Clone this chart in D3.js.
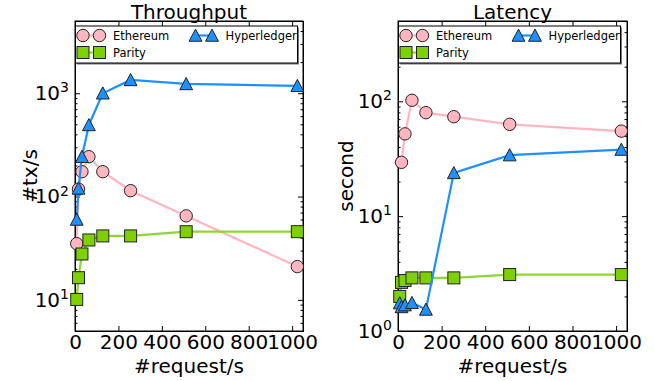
<!DOCTYPE html>
<html>
<head>
<meta charset="utf-8">
<script src="https://cdn.jsdelivr.net/npm/d3@7"></script>
<style>
  body { margin: 0; background: #fff; }
  svg { font-family: "DejaVu Sans", sans-serif; }
</style>
</head>
<body>
<div id="chart"></div>
<script>
// request rates (x) shared by every series
const requestRates = [8, 16, 32, 64, 128, 256, 512, 1024];

// Throughput (#tx/s)
const ethThroughput = [35, 118, 174, 243, 174, 114, 65, 21];
const parityThroughput = [10.1, 16.4, 27.8, 38, 41.6, 41.6, 45.7, 45.7];
const hyperThroughput = [60, 120, 243, 493, 1000, 1346, 1230, 1180];

// Latency (second) - Ethereum has no point at 8 req/s
const ethLatencyRates = [16, 32, 64, 128, 256, 512, 1024];
const ethLatency = [29.4, 52, 102, 79.6, 73.4, 63, 55];
const parityLatency = [2.0, 2.65, 2.75, 2.9, 2.9, 2.9, 3.1, 3.1];
const hyperLatency = [1.75, 1.62, 1.68, 1.76, 1.54, 23.8, 34, 38];

const xTicks = [0, 200, 400, 600, 800, 1000];
const legendNames = ["Ethereum", "Parity", "Hyperledger"];

const W = 654, H = 381;
const svg = d3.select("#chart").append("svg")
  .attr("width", W).attr("height", H);

const style = {
  Ethereum: {fill: "#ffb6c1", line: "#ffb6c1", shape: "circle"},
  Parity: {fill: "#7fd000", line: "#8fd630", shape: "square"},
  Hyperledger: {fill: "#1e90ff", line: "#1e90ff", shape: "triangle"}
};

function marker(g, shape, cx, cy, c) {
  if (shape == "circle") {
    g.append("circle").attr("cx", cx).attr("cy", cy).attr("r", 6.2)
      .attr("fill", c).attr("stroke", "#222").attr("stroke-width", 1);
  } else if (shape == "square") {
    g.append("rect").attr("x", cx - 6).attr("y", cy - 6)
      .attr("width", 12).attr("height", 12)
      .attr("fill", c).attr("stroke", "#222").attr("stroke-width", 1);
  } else {
    const s = 6.4;
    g.append("path")
      .attr("d", `M${cx},${cy - s}L${cx + s},${cy + s * 0.9}L${cx - s},${cy + s * 0.9}Z`)
      .attr("fill", c).attr("stroke", "#222").attr("stroke-width", 1);
  }
}

function superscript(sel, d) {
  const e = Math.round(Math.log10(d));
  sel.text(null);
  sel.append("tspan").text("10");
  sel.append("tspan").attr("dy", "-0.55em").attr("font-size", "14px").text(e);
}

function panel(opt) {
  const x = d3.scaleLinear().domain([0, 1050]).range([opt.left, opt.right]);
  const y = d3.scaleLog().domain(opt.yDomain).range([331, 21]);
  const g = svg.append("g");

  // minor ticks on y (left and right)
  const minor = [];
  for (let k = Math.floor(Math.log10(opt.yDomain[0])); k < Math.log10(opt.yDomain[1]); k++) {
    for (let m = 2; m <= 9; m++) {
      const v = m * Math.pow(10, k);
      if (v >= opt.yDomain[0] && v <= opt.yDomain[1]) minor.push(v);
    }
  }
  g.append("g").attr("transform", `translate(${opt.left},0)`)
    .call(d3.axisLeft(y).tickValues(minor).tickSize(-2.5).tickFormat(""));
  g.append("g").attr("transform", `translate(${opt.right},0)`)
    .call(d3.axisRight(y).tickValues(minor).tickSize(-2.5).tickFormat(""));

  // major y ticks
  const yl = g.append("g").attr("transform", `translate(${opt.left},0)`)
    .call(d3.axisLeft(y).tickValues(opt.yTicks).tickSize(-5).tickPadding(6));
  yl.selectAll(".tick text").each(function(d) { superscript(d3.select(this), d); });
  g.append("g").attr("transform", `translate(${opt.right},0)`)
    .call(d3.axisRight(y).tickValues(opt.yTicks).tickSize(-5).tickFormat(""));

  // x ticks bottom and top
  g.append("g").attr("transform", "translate(0,331)")
    .call(d3.axisBottom(x).tickValues(xTicks).tickSize(-5).tickPadding(4).tickFormat(d3.format("d")));
  g.append("g").attr("transform", "translate(0,21)")
    .call(d3.axisTop(x).tickValues(xTicks).tickSize(-5).tickFormat(""));

  g.selectAll(".domain").attr("stroke", "#000").attr("stroke-width", 1);
  g.selectAll(".tick line").attr("stroke", "#000");
  g.selectAll(".tick text").attr("font-size", "20px").attr("fill", "#000")
    .attr("font-family", "DejaVu Sans, sans-serif");

  // frame
  g.append("rect").attr("x", opt.left).attr("y", 21)
    .attr("width", opt.right - opt.left).attr("height", 310)
    .attr("fill", "none").attr("stroke", "#000").attr("stroke-width", 1);

  // series: Ethereum, Parity, Hyperledger (Hyperledger on top)
  opt.series.forEach(s => {
    const st = style[s.name];
    const pts = s.xs.map((v, i) => [x(v), y(s.ys[i])]);
    g.append("path").attr("d", d3.line()(pts))
      .attr("fill", "none").attr("stroke", st.line).attr("stroke-width", 2.2);
    pts.forEach(p => marker(g, st.shape, p[0], p[1], st.fill));
  });

  // title and axis labels
  const cx = (opt.left + opt.right) / 2;
  g.append("text").attr("x", cx).attr("y", 19).attr("text-anchor", "middle")
    .attr("font-size", "20px").text(opt.title);
  g.append("text").attr("x", cx).attr("y", 373).attr("text-anchor", "middle")
    .attr("font-size", "20px").text("#request/s");
  g.append("text").attr("transform", `translate(${opt.ylabelX},176) rotate(-90)`)
    .attr("text-anchor", "middle").attr("font-size", "20px").text(opt.ylabel);

  // legend
  const lx = opt.left + 0.5, ly = 26;
  const lg = g.append("g");
  lg.append("rect").attr("x", lx + 1.5).attr("y", ly + 1.5).attr("width", 222).attr("height", 37)
    .attr("fill", "#777");
  lg.append("rect").attr("x", lx).attr("y", ly).attr("width", 222).attr("height", 37)
    .attr("fill", "#fff").attr("stroke", "#000").attr("stroke-width", 1);
  const slots = [[lx + 7.5, ly + 9.5], [lx + 7.5, ly + 26.5], [lx + 120, ly + 9.5]];
  legendNames.forEach((n, i) => {
    const st = style[n];
    const [mx, my] = slots[i];
    lg.append("line").attr("x1", mx).attr("x2", mx + 16.5).attr("y1", my).attr("y2", my)
      .attr("stroke", st.line).attr("stroke-width", 2.2);
    marker(lg, st.shape, mx, my, st.fill);
    marker(lg, st.shape, mx + 16.5, my, st.fill);
    lg.append("text").attr("x", mx + 30).attr("y", my).attr("dy", "0.36em")
      .attr("font-size", "11.5px").text(n);
  });
}

panel({
  left: 75, right: 303, yDomain: [5, 5000], yTicks: [10, 100, 1000],
  title: "Throughput", ylabel: "#tx/s", ylabelX: 37,
  series: [
    {name: "Ethereum", xs: requestRates, ys: ethThroughput},
    {name: "Parity", xs: requestRates, ys: parityThroughput},
    {name: "Hyperledger", xs: requestRates, ys: hyperThroughput}
  ]
});

panel({
  left: 398, right: 627, yDomain: [1, 500], yTicks: [1, 10, 100],
  title: "Latency", ylabel: "second", ylabelX: 353,
  series: [
    {name: "Ethereum", xs: ethLatencyRates, ys: ethLatency},
    {name: "Parity", xs: requestRates, ys: parityLatency},
    {name: "Hyperledger", xs: requestRates, ys: hyperLatency}
  ]
});
</script>
</body>
</html>
